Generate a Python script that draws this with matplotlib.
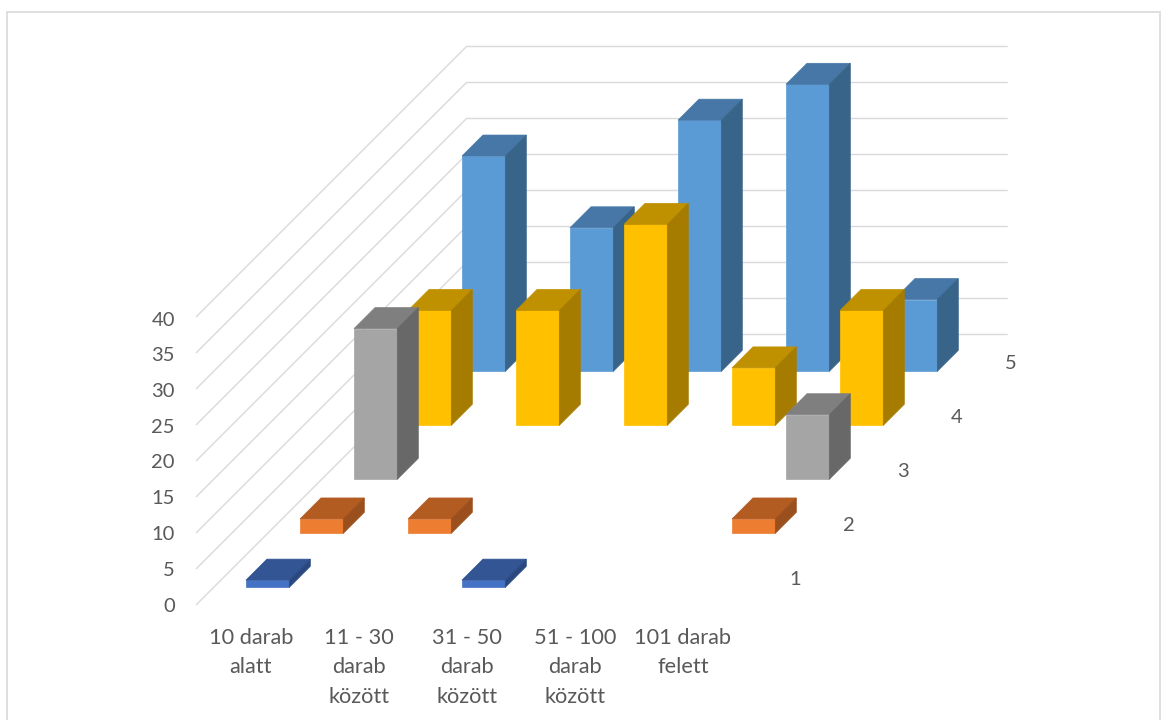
import matplotlib
matplotlib.use("Agg")
import matplotlib.pyplot as plt
from matplotlib.patches import Polygon, Rectangle

plt.rcParams['font.family'] = ['Lato', 'DejaVu Sans']

categories = ["10 darab\nalatt", "11 - 30\ndarab\nközött", "31 - 50\ndarab\nközött",
              "51 - 100\ndarab\nközött", "101 darab\nfelett"]
series_names = ["1", "2", "3", "4", "5"]
series_1 = [1, 0, 1, 0, 0]
series_2 = [2, 2, 0, 0, 2]
series_3 = [21, 0, 0, 0, 9]
series_4 = [16, 16, 28, 8, 16]
series_5 = [30, 20, 35, 40, 10]
value_ticks = [0, 5, 10, 15, 20, 25, 30, 35, 40]

# front, top, side shades per series
colors = [("#4472C4", "#335593", "#2A4880"),
          ("#ED7D31", "#B35C22", "#9A4F1D"),
          ("#A5A5A5", "#7F7F7F", "#686868"),
          ("#FFC000", "#BF9000", "#A67C00"),
          ("#5B9BD5", "#4677A6", "#376488")]

text_color = "#595959"
grid_color = "#D9D9D9"

# oblique projection, all in figure pixels
unit = 7.2
bar_unit = 7.175
cat_step = 108
series_step = 54
bar_width = 43.3
bar_depth = 21
origin_x = 246
origin_y = 587.3


def project(cat, series, value=0, across=0, depth=0):
    x = origin_x + cat * cat_step + series * series_step + across + depth
    y = origin_y - series * series_step - value * bar_unit - depth
    return x, y


def draw_bar(ax, cat, series, value, shades):
    front, top, side = shades
    fl = project(cat, series, 0)
    fr = project(cat, series, 0, bar_width)
    tl = project(cat, series, value)
    tr = project(cat, series, value, bar_width)
    tl_back = project(cat, series, value, 0, bar_depth)
    tr_back = project(cat, series, value, bar_width, bar_depth)
    br_back = project(cat, series, 0, bar_width, bar_depth)
    ax.add_patch(Polygon([fl, fr, tr, tl], fc=front, ec=front, lw=0.5))
    ax.add_patch(Polygon([tl, tr, tr_back, tl_back], fc=top, ec=top, lw=0.5))
    ax.add_patch(Polygon([fr, br_back, tr_back, tr], fc=side, ec=side, lw=0.5))


fig = plt.figure(figsize=(11.69, 7.2), dpi=100)
ax = fig.add_axes([0, 0, 1, 1])
ax.set_xlim(0, 1169)
ax.set_ylim(720, 0)
ax.axis("off")

# chart frame, open at the bottom edge
ax.add_patch(Rectangle((7, 12), 1152.5, 720, fc="white", ec="#D9D9D9", lw=1.2))

# gridlines over side wall and back wall
wall_front_x, wall_front_y = 196.5, 604.5
wall_back_x, wall_back_y = 466.5, 334.5
wall_end_x = 1007
for v in value_ticks:
    ax.plot([wall_front_x, wall_back_x, wall_end_x],
            [wall_front_y - v * unit, wall_back_y - v * unit, wall_back_y - v * unit],
            color=grid_color, lw=1.0, solid_joinstyle="miter", zorder=1)
    ax.text(175, wall_front_y + 1.5 - v * 7.15, str(v), ha="right", va="center",
            fontsize=14.5, color=text_color)

# back series first so the nearer bars cover it
all_series = [series_1, series_2, series_3, series_4, series_5]
for s in reversed(range(len(all_series))):
    for c in range(len(categories)):
        if all_series[s][c] > 0:
            draw_bar(ax, c, s, all_series[s][c], colors[s])

for c in range(len(categories)):
    ax.text(251 + c * cat_step, 627.5, categories[c], ha="center", va="top",
            fontsize=15.7, color=text_color, linespacing=1.6)

for s in range(len(series_names)):
    ax.text(795 + s * series_step, 579.5 - s * series_step, series_names[s],
            ha="center", va="center", fontsize=14.5, color=text_color)

plt.savefig("out.png", dpi=100)
